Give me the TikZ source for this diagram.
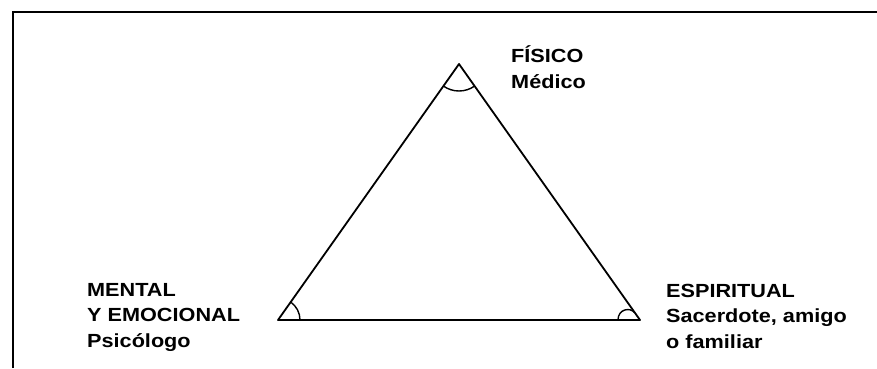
\documentclass[tikz,border=0pt]{standalone}
\usepackage{fontspec}
\setmainfont{Liberation Sans}[FakeStretch=1.14]
\begin{document}
\begin{tikzpicture}[x=1pt,y=-1pt,
  edge/.style={line width=1.8pt, line cap=round, line join=round},
  frameline/.style={line width=1.8pt},
  anglearc/.style={line width=1.4pt},
  lbl/.style={anchor=base west, inner sep=0pt, align=left,
    font=\fontsize{19}{25.5}\selectfont\bfseries}]
\useasboundingbox (0,0) rectangle (877,368);
% frame
\coordinate (fbl) at (13,368);
\coordinate (ftl) at (13,12);
\coordinate (ftr) at (877,12);
\draw[frameline] (fbl) -- (ftl) -- (ftr);
% triangle
\coordinate (A) at (459,64);
\coordinate (B) at (278,320);
\coordinate (C) at (640,320);
\draw[edge] (A) -- (B) -- (C) -- cycle;
% angle arcs
\draw[anglearc] ([shift={(125.3:27)}]A) arc[start angle=125.3, end angle=54.7, radius=27];
\draw[anglearc] ([shift={(0:22)}]B) arc[start angle=0, end angle=-54.7, radius=22];
\draw[anglearc] ([shift={(-22,0)}]C) .. controls ([shift={(-22,-11)}]C) and ([shift={(-10,-13)}]C) .. ([shift={(-5.5,-7.5)}]C);
% labels (anchored at the baseline of the last line)
\node[lbl] (fis) at (511,88) {FÍSICO\\Médico};
\node[lbl] (men) at (87,347) {MENTAL\\Y EMOCIONAL\\Psicólogo};
\node[lbl] (esp) at (666,348) {ESPIRITUAL\\Sacerdote, amigo\\o familiar};
\end{tikzpicture}
\end{document}
